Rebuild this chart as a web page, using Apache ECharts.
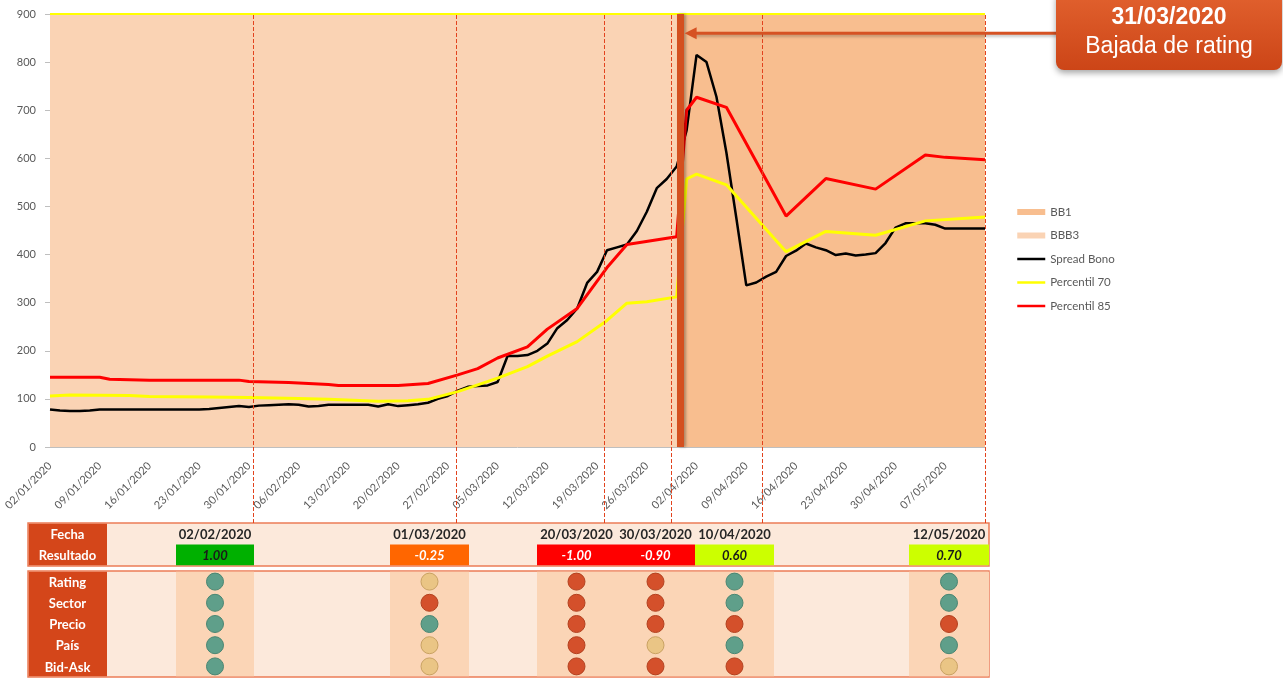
<!DOCTYPE html>
<html><head><meta charset="utf-8">
<script src="https://cdn.jsdelivr.net/npm/echarts@6/dist/echarts.min.js"></script>
<style>html,body{margin:0;padding:0;background:#fff}#c{width:1283px;height:678px}</style>
</head><body><div id="c"></div>
<script>
// ---------------- DATA ----------------
const categories = ['02/01/2020','03/01/2020','06/01/2020','07/01/2020','08/01/2020','09/01/2020','10/01/2020','13/01/2020','14/01/2020','15/01/2020','16/01/2020','17/01/2020','20/01/2020','21/01/2020','22/01/2020','23/01/2020','24/01/2020','27/01/2020','28/01/2020','29/01/2020','30/01/2020','31/01/2020',
'03/02/2020','04/02/2020','05/02/2020','06/02/2020','07/02/2020','10/02/2020','11/02/2020','12/02/2020','13/02/2020','14/02/2020','17/02/2020','18/02/2020','19/02/2020','20/02/2020','21/02/2020','24/02/2020','25/02/2020','26/02/2020','27/02/2020','28/02/2020',
'02/03/2020','03/03/2020','04/03/2020','05/03/2020','06/03/2020','09/03/2020','10/03/2020','11/03/2020','12/03/2020','13/03/2020','16/03/2020','17/03/2020','18/03/2020','19/03/2020','20/03/2020','23/03/2020','24/03/2020','25/03/2020','26/03/2020','27/03/2020','30/03/2020','31/03/2020',
'01/04/2020','02/04/2020','03/04/2020','06/04/2020','07/04/2020','08/04/2020','09/04/2020','10/04/2020','13/04/2020','14/04/2020','15/04/2020','16/04/2020','17/04/2020','20/04/2020','21/04/2020','22/04/2020','23/04/2020','24/04/2020','27/04/2020','28/04/2020','29/04/2020','30/04/2020',
'01/05/2020','04/05/2020','05/05/2020','06/05/2020','07/05/2020','08/05/2020','11/05/2020','12/05/2020','13/05/2020'];

const spreadBono = [78,76,75,75,76,78,78,78,78,78,
 78,78,78,78,78,78,79,81,83,85,
 83,86,87,88,89,88,84,85,88,88,
 88,88,88,84,89,85,87,89,92,100,
 106,117,125,127,128,135,189,189,191,200,
 215,247,264,288,341,364,409,415,421,449,
 489,538,557,583,658,815,800,728,612,476,
 336,342,354,364,397,408,423,415,409,399,
 402,398,400,403,424,456,465,465,465,462,
 454,454,454,454,454];

// [category index, value] vertices
const percentil70 = [[0,106],[2,108],[8,107],[10,105],[16,104],[20,103],[25,101],[28,99],[33,95],[36,96],[38,99],[41,115],[43,129],[45,143],[48,167],[50,189],[53,219],[56,263],[58,299],[60,302],[63,312],[64,557],[65,567],[68,545],[74,406],[78,448],[83,440],[88,470],[94,478]];
const percentil85 = [[0,145],[5,145],[6,141],[10,139],[19,139],[20,136],[22,135],[24,134],[26,132],[28,130],[29,128],[35,128],[38,132],[41,150],[43,163],[45,185],[48,208],[50,245],[53,288],[56,373],[58,421],[63,437],[64,700],[65,727],[68,706],[74,480],[78,558],[83,536],[88,607],[90,602],[94,597]];

const ratingChangePos = 63.4;           // 31/03/2020 on the axis
const bbb3Range = [0, 63.4];
const bb1Range = [63.4, 94];
const calloutTitle = '31/03/2020';
const calloutText = 'Bajada de rating';

const eventDates = ['02/02/2020','01/03/2020','20/03/2020','30/03/2020','10/04/2020','12/05/2020'];
const eventLinePos = [20.4, 40.8, 55.7, 62.5, 71.6, 94];
const eventResults = [1.00, -0.25, -1.00, -0.90, 0.60, 0.70];
const factorNames = ['Rating','Sector','Precio','País','Bid-Ask'];
// G = verde, N = neutro, B = rojo ; per factor, per event
const statusRating = ['G','N','B','B','G','G'];
const statusSector = ['G','B','B','B','G','G'];
const statusPrecio = ['G','G','B','B','B','B'];
const statusPais   = ['G','N','B','N','G','G'];
const statusBidAsk = ['G','N','B','B','B','N'];
const factorStatus = [statusRating, statusSector, statusPrecio, statusPais, statusBidAsk];

// ---------------- LAYOUT / STYLE ----------------
const BBB3_COLOR = '#FAD3B4';
const BB1_COLOR = '#F8BE8F';
const ACCENT = '#D4501F';
const colWidths = [79, 69, 78, 68, 68, 79, 68, 79, 79, 79, 68, 67, 80];
const colEdges = colWidths.reduce((a, w) => { a.push(a[a.length - 1] + w); return a; }, [0]);
const eventCols = [2, 5, 7, 8, 9, 12];
const tableWidth = colEdges[colEdges.length - 1];
const colCenter = i => (colEdges[eventCols[i]] + colEdges[eventCols[i] + 1]) / 2;
const statusFill = {G: '#5F9F8A', B: '#D4502B', N: '#EAC585'};
const statusBorder = {G: '#4A8672', B: '#B3411F', N: '#C9A263'};
function resultColor(v) {
  if (v >= 0.9) return '#00B000';
  if (v >= 0.3) return '#CCFF00';
  if (v > -0.5) return '#FF6600';
  return '#FF0000';
}
const FONT = 'Lato, "Open Sans", sans-serif';

const chart = echarts.init(document.getElementById('c'), null, {renderer: 'canvas'});

function renderT1Frame(params, api) {
  const cs = params.coordSys;
  const hx0 = api.coord([colEdges[0], 0])[0], hx1 = api.coord([colEdges[1], 0])[0];
  const ch = [
    {type: 'rect', shape: {x: cs.x, y: cs.y, width: cs.width, height: cs.height}, style: {fill: '#FCE9DB', stroke: '#EC7C57', lineWidth: 1.5}},
    {type: 'rect', shape: {x: hx0 + 0.75, y: cs.y + 0.75, width: hx1 - hx0 - 0.75, height: cs.height - 1.5}, style: {fill: '#D4461A'}}
  ];
  ['Fecha', 'Resultado'].forEach((t, i) => {
    ch.push({type: 'text', x: (hx0 + hx1) / 2, y: api.coord([0, i])[1] + 1, style: {text: t, fill: '#fff', font: 'bold 13px ' + FONT, align: 'center', verticalAlign: 'middle'}});
  });
  return {type: 'group', children: ch};
}
function renderT1Event(params, api) {
  const i = api.value(3);
  const c = eventCols[i];
  const x0 = api.coord([colEdges[c], 0])[0], x1 = api.coord([colEdges[c + 1], 0])[0];
  const yDate = api.coord([0, 0])[1];
  const yRes = api.coord([0, 1])[1];
  const bh = api.size([0, 1])[1];
  const v = api.value(2);
  return {type: 'group', children: [
    {type: 'rect', shape: {x: x0, y: yRes - bh / 2, width: x1 - x0, height: bh - 0.75}, style: {fill: resultColor(v)}},
    {type: 'text', x: (x0 + x1) / 2, y: yDate + 1, style: {text: eventDates[i], font: 'bold 13px ' + FONT, fill: '#262626', align: 'center', verticalAlign: 'middle'}},
    {type: 'text', x: (x0 + x1) / 2, y: yRes + 1, style: {text: v.toFixed(2), font: 'italic bold 13px ' + FONT, fill: v < 0 ? '#ffffff' : '#1a1a1a', align: 'center', verticalAlign: 'middle'}}
  ]};
}
function renderT2Frame(params, api) {
  const cs = params.coordSys;
  const hx0 = api.coord([colEdges[0], 0])[0], hx1 = api.coord([colEdges[1], 0])[0];
  const ch = [
    {type: 'rect', shape: {x: cs.x, y: cs.y, width: cs.width, height: cs.height}, style: {fill: '#FCE9DB', stroke: '#EC7C57', lineWidth: 1.5}}
  ];
  eventCols.forEach(c => {
    const x0 = api.coord([colEdges[c], 0])[0], x1 = api.coord([colEdges[c + 1], 0])[0];
    ch.push({type: 'rect', shape: {x: x0, y: cs.y + 0.75, width: x1 - x0, height: cs.height - 1.5}, style: {fill: '#FBD5B6'}});
  });
  ch.push({type: 'rect', shape: {x: hx0 + 0.75, y: cs.y + 0.75, width: hx1 - hx0 - 0.75, height: cs.height - 1.5}, style: {fill: '#D4461A'}});
  factorNames.forEach((t, i) => {
    ch.push({type: 'text', x: (hx0 + hx1) / 2, y: api.coord([0, i])[1] + 1, style: {text: t, fill: '#fff', font: 'bold 13px ' + FONT, align: 'center', verticalAlign: 'middle'}});
  });
  return {type: 'group', children: ch};
}

const circleData = [];
factorStatus.forEach((row, r) => row.forEach((s, i) => {
  circleData.push({value: [colCenter(i), r], itemStyle: {color: statusFill[s], borderColor: statusBorder[s], borderWidth: 1, opacity: 1}});
}));

const option = {
  animation: false,
  backgroundColor: '#ffffff',
  grid: [
    {left: 50, top: 14, width: 935, height: 433, outerBoundsMode: 'none'},
    {left: 50, top: 14, width: 935, height: 509, outerBoundsMode: 'none'},
    {left: 28, top: 523, width: 961, height: 43, outerBoundsMode: 'none'},
    {left: 28, top: 571, width: 961, height: 106, outerBoundsMode: 'none'}
  ],
  xAxis: [
    {type: 'category', gridIndex: 0, data: categories, boundaryGap: false,
     axisLine: {show: true, lineStyle: {color: '#BFBFBF', width: 1}},
     axisTick: {show: false}, splitLine: {show: false},
     axisLabel: {interval: 4, rotate: 45, fontSize: 11, color: '#595959', fontFamily: FONT, margin: 17}},
    {type: 'value', gridIndex: 0, min: 0, max: 94, show: false},
    {type: 'value', gridIndex: 1, min: 0, max: 94, show: false},
    {type: 'value', gridIndex: 2, min: 0, max: tableWidth, show: false},
    {type: 'value', gridIndex: 3, min: 0, max: tableWidth, show: false}
  ],
  yAxis: [
    {type: 'value', gridIndex: 0, min: 0, max: 900, interval: 100,
     axisLine: {show: false}, axisTick: {show: true, length: 5, lineStyle: {color: '#BFBFBF'}},
     splitLine: {show: false},
     axisLabel: {fontSize: 11, color: '#595959', fontFamily: FONT, margin: 14}},
    {type: 'value', gridIndex: 1, min: 0, max: 1, show: false},
    {type: 'category', gridIndex: 2, data: ['Fecha', 'Resultado'], inverse: true, show: false},
    {type: 'category', gridIndex: 3, data: factorNames, inverse: true, show: false}
  ],
  legend: {
    orient: 'vertical', left: 1011, top: 200, itemWidth: 28, itemHeight: 6, itemGap: 9.5, itemTextGap: 3,
    textStyle: {fontFamily: FONT, fontSize: 11.5, color: '#595959', lineHeight: 14},
    data: [
      {name: 'BB1', icon: 'rect', itemStyle: {color: BB1_COLOR, borderWidth: 0}},
      {name: 'BBB3', icon: 'rect', itemStyle: {color: BBB3_COLOR, borderWidth: 0}},
      {name: 'Spread Bono', itemStyle: {opacity: 0}, lineStyle: {width: 2.5}},
      {name: 'Percentil 70', itemStyle: {opacity: 0}, lineStyle: {width: 2.5}},
      {name: 'Percentil 85', itemStyle: {opacity: 0}, lineStyle: {width: 2.5}}
    ]
  },
  series: [
    {name: 'BBB3', type: 'line', xAxisIndex: 1, yAxisIndex: 0, symbol: 'none',
     data: [[bbb3Range[0], 900], [bbb3Range[1], 900]],
     lineStyle: {width: 0, color: BBB3_COLOR}, itemStyle: {color: BBB3_COLOR},
     areaStyle: {color: BBB3_COLOR, opacity: 1}},
    {name: 'BB1', type: 'line', xAxisIndex: 1, yAxisIndex: 0, symbol: 'none',
     data: [[bb1Range[0], 900], [bb1Range[1], 900]],
     lineStyle: {width: 0, color: BB1_COLOR}, itemStyle: {color: BB1_COLOR},
     areaStyle: {color: BB1_COLOR, opacity: 1},
     markLine: {silent: true, symbol: 'none', label: {show: false},
       lineStyle: {color: '#FFFF00', width: 2, type: 'solid'}, data: [{yAxis: 900}]}},
    {name: 'eventLines', type: 'line', xAxisIndex: 2, yAxisIndex: 1, symbol: 'none', data: [[0, -1]],
     lineStyle: {width: 0},
     markLine: {silent: true, symbol: 'none', label: {show: false},
       lineStyle: {color: '#E2431E', width: 1, type: [4, 2]},
       data: eventLinePos.map(x => ({xAxis: x}))}},
    {name: 'Spread Bono', type: 'line', xAxisIndex: 0, yAxisIndex: 0, symbol: 'none', data: spreadBono,
     lineStyle: {color: '#000000', width: 2.5}, itemStyle: {color: '#000000'}},
    {name: 'Percentil 70', type: 'line', xAxisIndex: 0, yAxisIndex: 0, symbol: 'none', data: percentil70,
     lineStyle: {color: '#FFFF00', width: 3}, itemStyle: {color: '#FFFF00'}},
    {name: 'Percentil 85', type: 'line', xAxisIndex: 0, yAxisIndex: 0, symbol: 'none', data: percentil85,
     lineStyle: {color: '#FF0000', width: 3}, itemStyle: {color: '#FF0000'}},
    {name: 'ratingLine', type: 'line', xAxisIndex: 1, yAxisIndex: 0, symbol: 'none', data: [[0, -10]], z: 5,
     lineStyle: {width: 0},
     markLine: {silent: true, symbol: 'none', label: {show: false},
       lineStyle: {color: ACCENT, width: 7, type: 'solid', shadowColor: 'rgba(0,0,0,0.3)', shadowBlur: 3, shadowOffsetX: 2},
       data: [{xAxis: ratingChangePos}]}},
    {name: 't1frame', type: 'custom', xAxisIndex: 3, yAxisIndex: 2, data: [[0, 0]], renderItem: renderT1Frame, silent: true},
    {name: 't1events', type: 'custom', xAxisIndex: 3, yAxisIndex: 2, z: 3,
     data: eventDates.map((d, i) => [colCenter(i), 1, eventResults[i], i]),
     encode: {x: 0, y: 1}, renderItem: renderT1Event, silent: true},
    {name: 't2frame', type: 'custom', xAxisIndex: 4, yAxisIndex: 3, data: [[0, 0]], renderItem: renderT2Frame, silent: true},
    {name: 'factors', type: 'scatter', xAxisIndex: 4, yAxisIndex: 3, z: 4, symbol: 'circle', symbolSize: 17,
     itemStyle: {opacity: 1}, data: circleData, silent: true}
  ]
};
chart.setOption(option);

// Callout + arrow pointing to the rating-change line
const ratingIdx = option.series.findIndex(s => s.name === 'ratingLine');
const tip = chart.convertToPixel({seriesIndex: ratingIdx}, [ratingChangePos, 860]);
const tipX = tip[0] + 4, tipY = tip[1];
chart.setOption({
  graphic: [
    {type: 'line', z: 100, shape: {x1: tipX + 8, y1: tipY, x2: 1060, y2: tipY},
     style: {stroke: '#D65223', lineWidth: 3, shadowColor: 'rgba(0,0,0,0.25)', shadowBlur: 3, shadowOffsetY: 2}},
    {type: 'polygon', z: 100, shape: {points: [[tipX, tipY], [tipX + 12, tipY - 6], [tipX + 12, tipY + 6]]},
     style: {fill: '#D65223'}},
    {type: 'rect', z: 101, shape: {x: 1056, y: -10, width: 226, height: 80, r: 8},
     style: {fill: new echarts.graphic.LinearGradient(0, 0, 0, 1, [{offset: 0, color: '#E2622F'}, {offset: 1, color: '#CC4517'}]),
       shadowColor: 'rgba(0,0,0,0.35)', shadowBlur: 6, shadowOffsetY: 3}},
    {type: 'text', z: 102, x: 1169, y: 18,
     style: {text: calloutTitle, fill: '#fff', font: 'bold 23px "Liberation Sans", Arial, sans-serif', align: 'center', verticalAlign: 'middle'}},
    {type: 'text', z: 102, x: 1169, y: 47,
     style: {text: calloutText, fill: '#fff', font: '23px "Liberation Sans", Arial, sans-serif', align: 'center', verticalAlign: 'middle'}}
  ]
});
</script></body></html>
